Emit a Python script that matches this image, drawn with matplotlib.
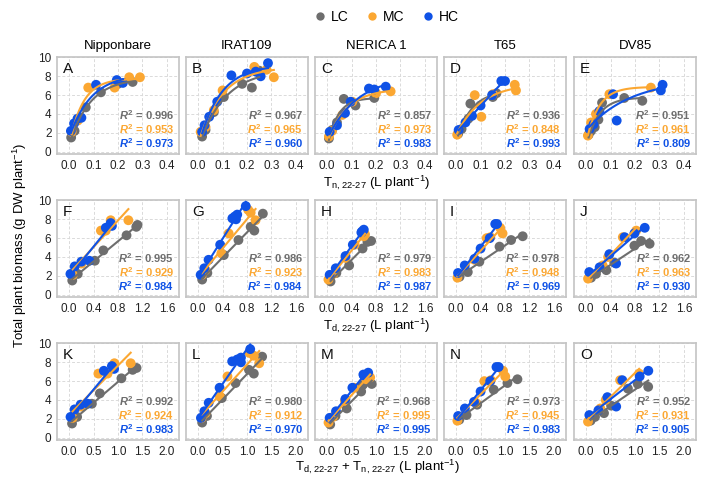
import numpy as np
import matplotlib
matplotlib.use("Agg")
import matplotlib.pyplot as plt
from matplotlib.lines import Line2D

plt.rcParams["font.family"] = "Liberation Sans"
plt.rcParams["mathtext.fontset"] = "custom"
plt.rcParams["mathtext.rm"] = "Liberation Sans"
plt.rcParams["mathtext.it"] = "Liberation Sans:italic:bold"
plt.rcParams["mathtext.default"] = "regular"

CULTIVARS = ["Nipponbare", "IRAT109", "NERICA 1", "T65", "DV85"]
TREATMENTS = ["LC", "MC", "HC"]
COLORS = {"LC": "#6e6e6e", "MC": "#fba732", "HC": "#0f52e6"}
LETTERS = ["A", "B", "C", "D", "E", "F", "G", "H", "I", "J", "K", "L", "M", "N", "O"]

# biomass (g DW plant-1), night (tn) and day (td) transpiration 22-27 (L plant-1)
BIO_NIP_LC = [1.5, 2.2, 3.6, 4.7, 6.3, 7.2, 7.4]
TN_NIP_LC = [0.008, 0.022, 0.045, 0.068, 0.13, 0.2, 0.26]
TD_NIP_LC = [0.05, 0.14, 0.42, 0.56, 0.94, 1.1, 1.12]
BIO_NIP_MC = [2.1, 3.3, 6.8, 6.8, 7.9, 7.9]
TN_NIP_MC = [0.01, 0.035, 0.078, 0.186, 0.246, 0.29]
TD_NIP_MC = [0.06, 0.2, 0.52, 0.6, 0.68, 0.97]
BIO_NIP_HC = [2.2, 3.0, 3.5, 3.6, 7.1, 7.6, 7.3]
TN_NIP_HC = [0.007, 0.02, 0.034, 0.05, 0.11, 0.195, 0.22]
TD_NIP_HC = [0.02, 0.09, 0.2, 0.33, 0.6, 0.68, 0.7]

BIO_IRAT_LC = [1.6, 2.3, 4.2, 5.8, 7.2, 6.8, 8.6]
TN_IRAT_LC = [0.016, 0.03, 0.064, 0.105, 0.18, 0.22, 0.25]
TD_IRAT_LC = [0.065, 0.15, 0.42, 0.66, 0.86, 0.92, 1.06]
BIO_IRAT_MC = [2.1, 2.6, 4.4, 6.5, 8.7, 9.0, 7.9]
TN_IRAT_MC = [0.01, 0.03, 0.064, 0.1, 0.28, 0.23, 0.31]
TD_IRAT_MC = [0.06, 0.12, 0.38, 0.5, 0.86, 0.82, 0.94]
BIO_IRAT_HC = [2.1, 2.8, 3.7, 5.3, 8.1, 8.3, 8.5, 8.0, 9.4]
TN_IRAT_HC = [0.016, 0.026, 0.045, 0.078, 0.136, 0.2, 0.236, 0.256, 0.286]
TD_IRAT_HC = [0.04, 0.1, 0.17, 0.36, 0.56, 0.6, 0.64, 0.62, 0.78]

BIO_NER_LC = [1.4, 2.3, 3.1, 5.6, 4.9, 5.7]
TN_NER_LC = [0.007, 0.02, 0.04, 0.068, 0.116, 0.193]
TD_NER_LC = [0.055, 0.15, 0.36, 0.66, 0.58, 0.72]
BIO_NER_MC = [1.6, 2.2, 3.9, 5.3, 6.2, 6.4]
TN_NER_MC = [0.007, 0.02, 0.062, 0.103, 0.2, 0.26]
TD_NER_MC = [0.02, 0.1, 0.3, 0.45, 0.6, 0.62]
BIO_NER_HC = [2.1, 2.8, 4.1, 5.3, 6.7, 6.6, 6.9]
TN_NER_HC = [0.01, 0.04, 0.073, 0.096, 0.171, 0.193, 0.24]
TD_NER_HC = [0.04, 0.14, 0.3, 0.42, 0.57, 0.56, 0.6]

BIO_T65_LC = [1.9, 2.4, 3.5, 5.1, 5.8, 6.2]
TN_T65_LC = [0.008, 0.022, 0.05, 0.058, 0.15, 0.165]
TD_T65_LC = [0.055, 0.19, 0.38, 0.71, 0.9, 1.09]
BIO_T65_MC = [1.8, 3.7, 6.0, 6.1, 7.1, 6.5]
TN_T65_MC = [0.004, 0.103, 0.076, 0.15, 0.24, 0.245]
TD_T65_MC = [0.02, 0.3, 0.5, 0.56, 0.72, 0.76]
BIO_T65_HC = [2.3, 3.1, 3.8, 4.9, 6.0, 7.5, 7.5]
TN_T65_HC = [0.01, 0.038, 0.065, 0.1, 0.147, 0.185, 0.2]
TD_T65_HC = [0.03, 0.14, 0.3, 0.4, 0.55, 0.64, 0.67]

BIO_DV_LC = [1.8, 2.2, 2.6, 3.4, 5.2, 5.7, 5.4]
TN_DV_LC = [0.01, 0.02, 0.035, 0.05, 0.065, 0.156, 0.23]
TD_DV_LC = [0.08, 0.16, 0.33, 0.46, 0.79, 0.9, 1.04]
BIO_DV_MC = [1.7, 3.1, 4.0, 6.1, 6.8]
TN_DV_MC = [0.007, 0.02, 0.04, 0.095, 0.265]
TD_DV_MC = [0.03, 0.27, 0.36, 0.6, 0.82]
BIO_DV_HC = [2.4, 2.9, 4.3, 3.3, 6.1, 6.5, 7.1]
TN_DV_HC = [0.014, 0.03, 0.054, 0.125, 0.11, 0.306, 0.313]
TD_DV_HC = [0.05, 0.22, 0.38, 0.49, 0.63, 0.79, 0.96]

# R2 labels per panel (LC, MC, HC), panels A..O
R2_LC = [0.996, 0.967, 0.857, 0.936, 0.951, 0.995, 0.986, 0.979, 0.978, 0.962,
         0.992, 0.980, 0.968, 0.973, 0.952]
R2_MC = [0.953, 0.965, 0.973, 0.848, 0.961, 0.929, 0.923, 0.983, 0.948, 0.963,
         0.924, 0.912, 0.995, 0.945, 0.931]
R2_HC = [0.973, 0.960, 0.983, 0.993, 0.809, 0.984, 0.984, 0.987, 0.969, 0.930,
         0.983, 0.970, 0.995, 0.983, 0.905]

DATA = {
    "Nipponbare": {"LC": (BIO_NIP_LC, TN_NIP_LC, TD_NIP_LC),
                   "MC": (BIO_NIP_MC, TN_NIP_MC, TD_NIP_MC),
                   "HC": (BIO_NIP_HC, TN_NIP_HC, TD_NIP_HC)},
    "IRAT109": {"LC": (BIO_IRAT_LC, TN_IRAT_LC, TD_IRAT_LC),
                "MC": (BIO_IRAT_MC, TN_IRAT_MC, TD_IRAT_MC),
                "HC": (BIO_IRAT_HC, TN_IRAT_HC, TD_IRAT_HC)},
    "NERICA 1": {"LC": (BIO_NER_LC, TN_NER_LC, TD_NER_LC),
                 "MC": (BIO_NER_MC, TN_NER_MC, TD_NER_MC),
                 "HC": (BIO_NER_HC, TN_NER_HC, TD_NER_HC)},
    "T65": {"LC": (BIO_T65_LC, TN_T65_LC, TD_T65_LC),
            "MC": (BIO_T65_MC, TN_T65_MC, TD_T65_MC),
            "HC": (BIO_T65_HC, TN_T65_HC, TD_T65_HC)},
    "DV85": {"LC": (BIO_DV_LC, TN_DV_LC, TD_DV_LC),
             "MC": (BIO_DV_MC, TN_DV_MC, TD_DV_MC),
             "HC": (BIO_DV_HC, TN_DV_HC, TD_DV_HC)},
}


def exp_fit(x, y):
    # y = a - b * exp(-k x), grid over k, linear least squares for a, b
    best = None
    for k in np.logspace(-0.5, 2.5, 500):
        A = np.column_stack([np.ones_like(x), -np.exp(-k * x)])
        coef = np.linalg.lstsq(A, y, rcond=None)[0]
        sse = np.sum((A @ coef - y) ** 2)
        if best is None or sse < best[0]:
            best = (sse, coef[0], coef[1], k)
    return best[1:]


def style_axis(ax, xlim, xticks, show_y):
    ax.set_xlim(*xlim)
    ax.set_ylim(-0.25, 10.05)
    ax.set_xticks(xticks)
    ax.set_yticks([0, 2, 4, 6, 8, 10])
    ax.grid(True, color="#dadada", linestyle=(0, (3, 2)), linewidth=0.7)
    ax.set_axisbelow(True)
    for s in ax.spines.values():
        s.set_color("#c4c4c4")
        s.set_linewidth(1.2)
    ax.tick_params(length=0, labelsize=8.5, pad=4, colors="#222222")
    if not show_y:
        ax.tick_params(labelleft=False)


fig = plt.figure(figsize=(7.01, 4.78), dpi=100)
W, H = 701, 478
col_left = [57, 186, 315, 444, 574]
row_top = [57, 200, 343]
aw, ah = 122, 97

row_xlim = [(-0.05, 0.45), (-0.2, 1.8), (-0.25, 2.25)]
row_xticks = [[0.0, 0.1, 0.2, 0.3, 0.4], [0.0, 0.4, 0.8, 1.2, 1.6],
              [0.0, 0.5, 1.0, 1.5, 2.0]]
row_xlabel = [r"T$_{\text{n, 22-27}}$ (L plant$^{-1}$)",
              r"T$_{\text{d, 22-27}}$ (L plant$^{-1}$)",
              r"T$_{\text{d, 22-27}}$ + T$_{\text{n, 22-27}}$ (L plant$^{-1}$)"]
xlabel_y = [183, 326, 467]

for r in range(3):
    for c, cv in enumerate(CULTIVARS):
        ax = fig.add_axes([col_left[c] / W, 1 - (row_top[r] + ah) / H, aw / W, ah / H])
        style_axis(ax, row_xlim[r], row_xticks[r], c == 0)
        for t in TREATMENTS:
            bio, tn, td = DATA[cv][t]
            bio = np.array(bio)
            tn = np.array(tn)
            td = np.array(td)
            x = [tn, td, tn + td][r]
            ax.scatter(x, bio, s=50, color=COLORS[t], edgecolors="none", zorder=3)
            xs = np.linspace(x.min(), x.max(), 100)
            if r == 0:
                a, b, k = exp_fit(x, bio)
                ys = a - b * np.exp(-k * xs)
            else:
                ys = np.polyval(np.polyfit(x, bio, 1), xs)
            ax.plot(xs, ys, color=COLORS[t], linewidth=1.5, zorder=4)
        idx = r * 5 + c
        ax.text(0.05, 0.95, LETTERS[idx], transform=ax.transAxes, ha="left", va="top",
                fontsize=11, color="#111111")
        for j, (vals, t) in enumerate(zip([R2_LC, R2_MC, R2_HC], TREATMENTS)):
            ax.text(0.96, 0.40 - 0.145 * j, r"$\mathit{R}^2$ = " + f"{vals[idx]:.3f}",
                    transform=ax.transAxes, ha="right", va="center",
                    fontsize=8, fontweight="bold", color=COLORS[t])
        if r == 0:
            ax.set_title(cv, fontsize=9.5, pad=6)
    fig.text(377 / W, 1 - xlabel_y[r] / H, row_xlabel[r], ha="center", va="center",
             fontsize=9.5)

fig.text(20 / W, 1 - 245 / H, r"Total plant biomass (g DW plant$^{-1}$)",
         rotation=90, ha="center", va="center", fontsize=9.5)

handles = [Line2D([], [], marker="o", linestyle="none", markersize=6,
                  markerfacecolor=COLORS[t], markeredgecolor="none", label=t)
           for t in TREATMENTS]
fig.legend(handles=handles, loc="center", bbox_to_anchor=(386 / W, 1 - 17 / H),
           ncol=3, frameon=False, fontsize=10, handletextpad=0.3, columnspacing=1.2,
           handlelength=1.0)

fig.savefig("out.png", dpi=100)
